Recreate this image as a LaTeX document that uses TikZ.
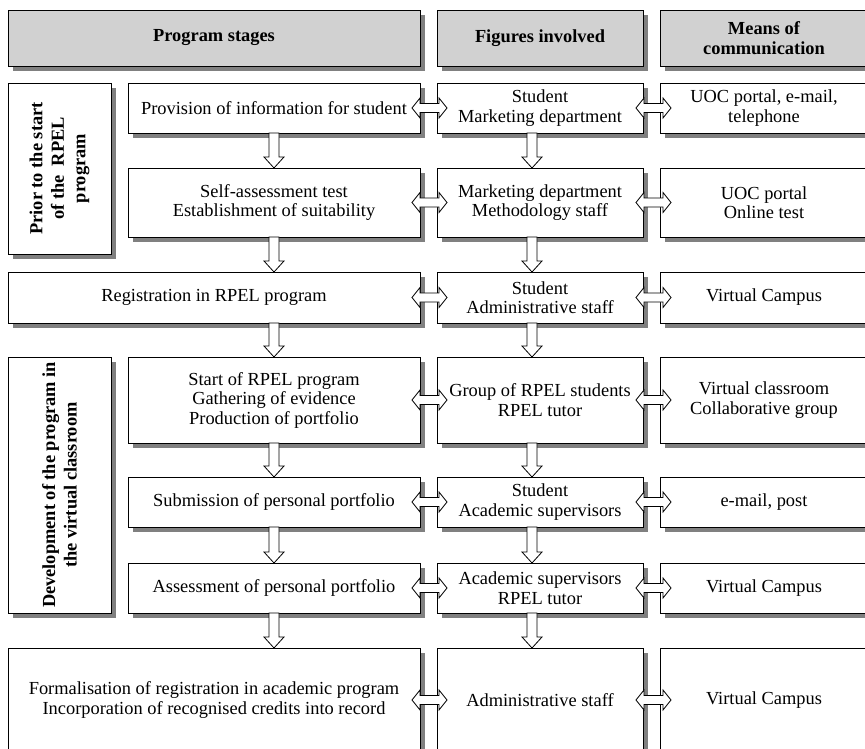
\documentclass[tikz,border=0pt]{standalone}
\usepackage{fontspec}
\setmainfont{Liberation Serif}
\usetikzlibrary{shadows,calc}
\begin{document}
\begin{tikzpicture}[x=1pt,y=-1pt,
  shad/.style={drop shadow={shadow xshift=5pt,shadow yshift=-5pt,fill=black!50,opacity=1}},
  box/.style={draw,line width=0.9pt,fill=white,outer sep=0pt,inner sep=0pt,align=center,
    font=\fontsize{18.4}{19.5}\selectfont,shad},
  head/.style={box,fill=black!18,font=\fontsize{18.4}{19.5}\selectfont\bfseries},
  side/.style={box,rotate=90,font=\fontsize{18.4}{21.5}\selectfont\bfseries},
  harr/.style={draw=black,fill=white,line width=0.8pt,to path={
    let \p1=(\tikztostart), \p2=(\tikztotarget) in
    (\x1,\y1) -- (\x1+8pt,\y1+10pt) -- (\x1+8pt,\y1+4.5pt) -- (\x2-8pt,\y1+4.5pt)
    -- (\x2-8pt,\y1+10pt) -- (\x2,\y1) -- (\x2-8pt,\y1-10pt) -- (\x2-8pt,\y1-4.5pt)
    -- (\x1+8pt,\y1-4.5pt) -- (\x1+8pt,\y1-10pt) -- cycle}},
  varr/.style={draw=black,fill=white,line width=0.8pt,to path={
    let \p1=(\tikztostart), \p2=(\tikztotarget) in
    (\x1-5pt,\y1) -- (\x1-5pt,\y2+11pt) -- (\x1-10pt,\y2+11pt) -- (\x1,\y2)
    -- (\x1+10pt,\y2+11pt) -- (\x1+5pt,\y2+11pt) -- (\x1+5pt,\y1) -- cycle}}
]
\useasboundingbox (0,0) rectangle (865,749);
\clip (0,0) rectangle (865,749);

% headers
\node[head,minimum width=412pt,minimum height=56pt] (h1) at (214,38) {Program stages};
\node[head,minimum width=206pt,minimum height=56pt] (h2) at (540,38) {Figures involved};
\node[head,minimum width=208pt,minimum height=56pt] (h3) at (764,38) {Means of\\communication};

% side labels
\node[side,minimum width=171pt,minimum height=103pt] (l1) at (59.5,168.5) {Prior to the start\\of the\ \ RPEL\\program};
\node[side,minimum width=256pt,minimum height=103pt] (l2) at (59.5,485) {Development of the program in\\the virtual classroom};

% stage column
\node[box,minimum width=292pt,minimum height=50pt] (s1) at (274,108) {Provision of information for student};
\node[box,minimum width=292pt,minimum height=69pt] (s2) at (274,202.5) {Self-assessment test\\Establishment of suitability};
\node[box,minimum width=412pt,minimum height=51pt] (s3) at (214,297.5) {Registration in RPEL program};
\node[box,minimum width=292pt,minimum height=86pt] (s4) at (274,400) {Start of RPEL program\\Gathering of evidence\\Production of portfolio};
\node[box,minimum width=292pt,minimum height=50pt] (s5) at (274,502) {Submission of personal portfolio};
\node[box,minimum width=292pt,minimum height=50pt] (s6) at (274,588) {Assessment of personal portfolio};
\node[box,minimum width=412pt,minimum height=104pt] (s7) at (214,700) {Formalisation of registration in academic program\\Incorporation of recognised credits into record};

% figures column
\node[box,minimum width=206pt,minimum height=50pt] (f1) at (540,108) {Student\\Marketing department};
\node[box,minimum width=206pt,minimum height=69pt] (f2) at (540,202.5) {Marketing department\\Methodology staff};
\node[box,minimum width=206pt,minimum height=51pt] (f3) at (540,297.5) {Student\\Administrative staff};
\node[box,minimum width=206pt,minimum height=86pt] (f4) at (540,400) {Group of RPEL students\\RPEL tutor};
\node[box,minimum width=206pt,minimum height=50pt] (f5) at (540,502) {Student\\Academic supervisors};
\node[box,minimum width=206pt,minimum height=50pt] (f6) at (540,588) {Academic supervisors\\RPEL tutor};
\node[box,minimum width=206pt,minimum height=104pt] (f7) at (540,700) {Administrative staff};

% means column
\node[box,minimum width=208pt,minimum height=50pt] (m1) at (764,108) {UOC portal, e-mail,\\telephone};
\node[box,minimum width=208pt,minimum height=69pt] (m2) at (764,202.5) {UOC portal\\Online test};
\node[box,minimum width=208pt,minimum height=51pt] (m3) at (764,297.5) {Virtual Campus};
\node[box,minimum width=208pt,minimum height=86pt] (m4) at (764,400) {Virtual classroom\\Collaborative group};
\node[box,minimum width=208pt,minimum height=50pt] (m5) at (764,502) {e-mail, post};
\node[box,minimum width=208pt,minimum height=50pt] (m6) at (764,588) {Virtual Campus};
\node[box,minimum width=208pt,minimum height=104pt] (m7) at (764,700) {Virtual Campus};

% arrow columns
\coordinate (cs) at (274,0);
\coordinate (cf) at (532,0);

% vertical arrows
\foreach \a/\b in {1/2,2/3,3/4,4/5,5/6,6/7}{
  \path[varr] (s\a.south -| cs) to (s\b.north -| cs);
  \path[varr] (f\a.south -| cf) to (f\b.north -| cf);
}

% horizontal double arrows
\foreach \r in {1,...,7}{
  \path[harr] ($(s\r.east)+(-8,0)$) to ($(f\r.west)+(10,0)$);
  \path[harr] ($(f\r.east)+(-7,0)$) to ($(m\r.west)+(11,0)$);
}
\end{tikzpicture}
\end{document}
